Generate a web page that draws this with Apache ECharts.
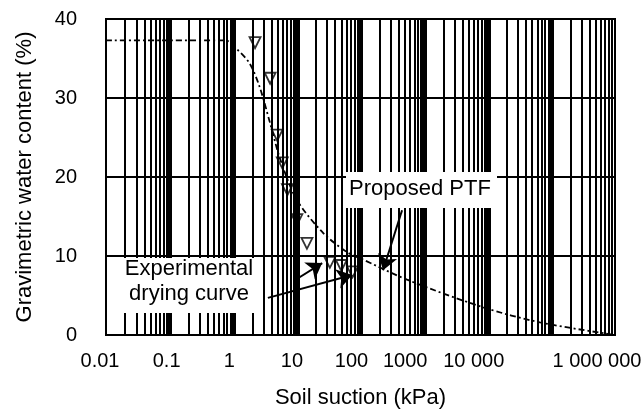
<!DOCTYPE html>
<html><head><meta charset="utf-8">
<script src="https://cdn.jsdelivr.net/npm/echarts@6/dist/echarts.min.js"></script>
<style>html,body{margin:0;padding:0;background:#fff}#c{width:642px;height:412px}</style>
</head><body><div id="c"></div>
<script>
// ---- data ----
const xTickLabels = ['0.01','0.1','1','10','100','1000','10 000','','1 000 000'];
const decades = [0.01,0.1,1,10,100,1000,10000,100000,1000000];
const minorMultipliers = [2,3,4,5,6,7,8,9];
const yTicks = [0,10,20,30,40];

const ptfSuction = [0.01,0.1,0.75,1.07,1.8,2.6,3.8,5.5,10,26,61,100,540,8500,66000,1000000];
const ptfWater   = [37.3,37.3,37.3,36.4,34.4,31.4,26.8,22.2,17.1,12.9,10.5,9.7,7.0,3.5,1.6,0];

const expSuction = [2.2,3.8,4.9,5.9,7.1,10,14.4,33,50,75];
const expWater   = [37.0,32.5,25.3,21.8,18.4,14.6,11.6,9.2,8.8,8.0];

// annotation arrows: [fromSuction, fromWater, toSuction, toWater]
const arrowExpA = [9.4, 6.96, 25, 9.1];
const arrowExpB = [3.5, 4.7, 74, 7.6];
const arrowPtf  = [450, 15.8, 226, 8.2];

// ---- styling helpers ----
const FONT = 'Liberation Sans, Arial, sans-serif';
const labelNudge = [-6,-3,-4,-5,-9,-19,-14,0,-18];
const rich = {};
labelNudge.forEach((n,i)=>{ rich['s'+i] = {fontSize:20, color:'#000', fontFamily:FONT, padding:[0, -2*n, 0, 0]}; });

const gridLines = [];
decades.forEach((d,i)=>{
  gridLines.push({xAxis:d, lineStyle:{width:(i===0||i===decades.length-1)?2:5, color:'#000', type:'solid'}});
  if (i < decades.length-1) minorMultipliers.forEach(m=>{
    gridLines.push({xAxis:d*m, lineStyle:{width:2, color:'#000', type:'solid'}});
  });
});

function arrow(a){ return [{coord:[a[0],a[1]], symbol:'none'},{coord:[a[2],a[3]], symbol:'arrow', symbolSize:15}]; }

const chart = echarts.init(document.getElementById('c'), null, {renderer:'canvas'});
chart.setOption({
  animation:false,
  backgroundColor:'#fff',
  color:['#000'],
  grid:{left:106, right:27, top:19, bottom:77, containLabel:false, outerBoundsMode:'none',
        show:true, borderColor:'#000', borderWidth:2},
  xAxis:{
    type:'log', logBase:10, min:0.01, max:1000000,
    name:'Soil suction (kPa)', nameLocation:'middle', nameGap:52,
    nameTextStyle:{fontSize:22, color:'#000', fontFamily:FONT},
    axisLine:{lineStyle:{color:'#000', width:2}},
    axisTick:{show:false},
    splitLine:{show:false},
    axisLabel:{margin:16, color:'#000', fontSize:20, fontFamily:FONT, rich:rich,
      formatter:(v)=>{ const i=Math.round(Math.log10(v))+2; const t=xTickLabels[i]; return t?('{s'+i+'|'+t+'}'):''; }}
  },
  yAxis:{
    type:'value', min:yTicks[0], max:yTicks[yTicks.length-1], interval:10,
    name:'Gravimetric water content (%)', nameLocation:'middle', nameGap:70,
    nameTextStyle:{fontSize:22, color:'#000', fontFamily:FONT},
    axisLine:{show:true, lineStyle:{color:'#000', width:2}},
    axisTick:{show:false},
    splitLine:{show:true, lineStyle:{color:'#000', width:2}},
    axisLabel:{margin:29, color:'#000', fontSize:20, fontFamily:FONT}
  },
  series:[
    {type:'line', z:1, silent:true, data:[[0.01,0],[1000000,0]], showSymbol:false,
     lineStyle:{opacity:0},
     markLine:{silent:true, symbol:'none', label:{show:false}, animation:false, data:gridLines}},
    {type:'line', z:5, name:'Proposed PTF', data:ptfSuction.map((s,i)=>[s,ptfWater[i]]),
     showSymbol:false, smooth:0.3,
     lineStyle:{color:'#000', width:1.8, type:[6,3,2,3]}},
    {type:'scatter', z:12, name:'Experimental', data:expSuction.map((s,i)=>[s,expWater[i]]),
     symbol:'triangle', symbolRotate:180, symbolSize:11,
     itemStyle:{color:'rgba(255,255,255,0)', borderColor:'#000', borderWidth:1.8},
     markLine:{silent:true, symbol:['none','arrow'], symbolSize:15, label:{show:false},
       itemStyle:{color:'#000'},
       lineStyle:{color:'#000', width:2, type:'solid'},
       data:[arrow(arrowExpA), arrow(arrowExpB), arrow(arrowPtf)]}}
  ],
  graphic:[
    {type:'rect', z:10, shape:{x:110, y:258, width:153, height:55}, style:{fill:'#fff'}},
    {type:'text', z:11, x:189, y:281, style:{text:'Experimental\ndrying curve', fill:'#000',
      font:'22px '+FONT, align:'center', verticalAlign:'middle', lineHeight:25}},
    {type:'rect', z:10, shape:{x:346, y:172, width:151, height:36}, style:{fill:'#fff'}},
    {type:'text', z:11, x:420, y:189, style:{text:'Proposed PTF', fill:'#000',
      font:'22px '+FONT, align:'center', verticalAlign:'middle'}}
  ]
});
</script></body></html>
